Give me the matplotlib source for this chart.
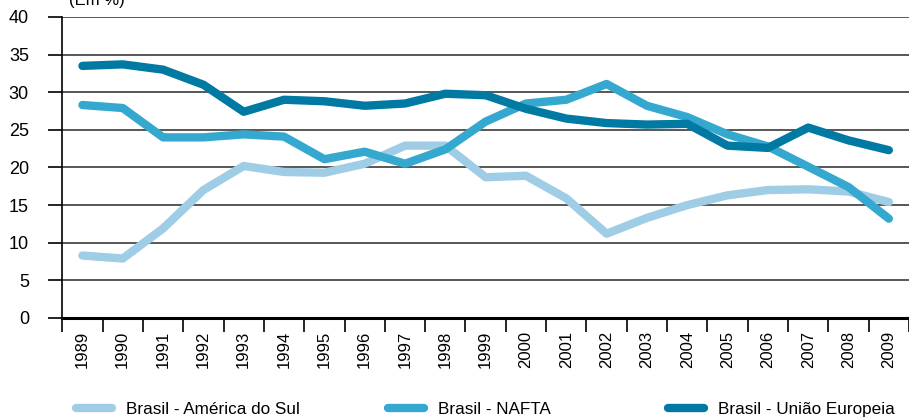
import numpy as np
import matplotlib
matplotlib.use('Agg')
import matplotlib.pyplot as plt
from matplotlib.lines import Line2D

# === DATA ===
anos = [str(a) for a in range(1989, 2010)]
america_do_sul = [8.3, 7.9, 11.9, 17.0, 20.2, 19.4, 19.3, 20.5, 22.9, 22.9, 18.7,
                  18.9, 15.9, 11.2, 13.3, 15.0, 16.3, 17.0, 17.1, 16.8, 15.4]
nafta = [28.3, 27.9, 24.0, 24.0, 24.4, 24.1, 21.1, 22.1, 20.5, 22.4, 26.1,
         28.5, 29.0, 31.1, 28.2, 26.7, 24.4, 22.8, 20.1, 17.4, 13.2]
uniao_europeia = [33.5, 33.7, 33.0, 31.0, 27.4, 29.0, 28.8, 28.2, 28.5, 29.8, 29.6,
                  27.8, 26.5, 25.9, 25.7, 25.8, 22.9, 22.6, 25.3, 23.6, 22.3]
nomes = ['Brasil - América do Sul', 'Brasil - NAFTA', 'Brasil - União Europeia']
cores = ['#9ecde5', '#35a8cf', '#0079a3']

plt.rcParams['font.family'] = ['Liberation Sans', 'DejaVu Sans']

fig = plt.figure(figsize=(9.09, 4.2), dpi=100)
ax = fig.add_axes([0.0685, 0.2429, 0.9315, 0.7167])

x = np.arange(len(anos))
for serie, cor in zip([america_do_sul, nafta, uniao_europeia], cores):
    ax.plot(x, serie, color=cor, lw=6, solid_capstyle='round',
            solid_joinstyle='round', zorder=3)

ax.set_xlim(-0.5, len(anos) - 0.5)
ax.set_ylim(0, 40)
ax.set_yticks(range(0, 41, 5))
for v in range(5, 41, 5):
    ax.axhline(v, color='#2a2a2a', lw=1.1, zorder=1)

# year labels centred, ticks at category boundaries
ax.set_xticks(x)
ax.set_xticklabels(anos, rotation=90, fontsize=12)
ax.set_xticks(np.arange(-0.5, len(anos), 1), minor=True)
ax.tick_params(axis='x', which='major', length=0, pad=9)
ax.tick_params(axis='x', which='minor', length=10, width=1.2, color='black')
ax.tick_params(axis='y', length=10, width=1.2, pad=14, labelsize=13)

for s in ['top', 'right']:
    ax.spines[s].set_visible(False)
ax.spines['left'].set_linewidth(1.2)
ax.spines['bottom'].set_linewidth(2.2)

fig.text(0.076, 0.988, '(Em %)', fontsize=12, va='baseline')

# legend entries at fixed positions
pos_x = [0.0836, 0.427, 0.735]
for nome, cor, px in zip(nomes, cores, pos_x):
    h = Line2D([], [], color=cor, lw=6, solid_capstyle='round')
    fig.legend([h], [nome], loc='center left', bbox_to_anchor=(px, 0.025),
               frameon=False, borderpad=0, borderaxespad=0,
               handlelength=2.1, handletextpad=0.8,
               prop={'size': 12.3})

plt.savefig('out.png', dpi=100)
